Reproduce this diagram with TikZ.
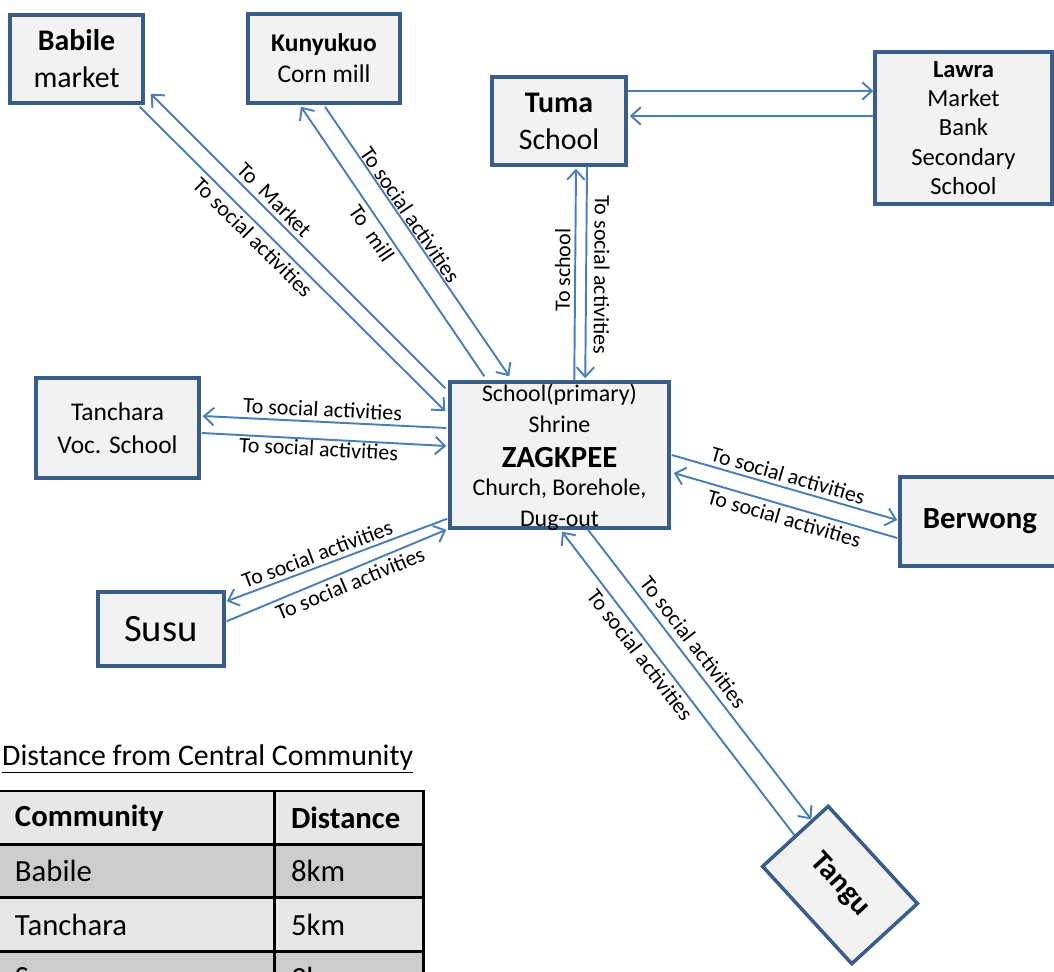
\documentclass[tikz,border=0pt]{standalone}
\usepackage{fontspec}
\setmainfont{Carlito}
\usetikzlibrary{arrows.meta}
\usetikzlibrary{calc}
\definecolor{boxblue}{RGB}{56, 93, 138}
\definecolor{linkblue}{RGB}{74, 126, 187}
\definecolor{boxgray}{RGB}{242, 242, 242}
\definecolor{lightrow}{RGB}{231, 231, 231}
\definecolor{darkrow}{RGB}{204, 204, 204}
\newcommand{\fsz}[2]{\fontsize{#1}{#2}\selectfont}
\tikzset{place/.style = {draw = boxblue, line width = 2pt, fill = boxgray, align = center, inner sep = 0pt}}
\tikzset{link/.style = {draw = linkblue, line width = 1.1pt, -{Straight Barb[length = 5.5pt, width = 10pt]}}}
\tikzset{lbl/.style = {font = \fsz{12.5}{14}, sloped, inner sep = 2.2pt, text = black}}
\tikzset{cell/.style = {draw, line width = 1.7pt, anchor = north west, outer sep = 0pt, minimum height = 1.07cm, align = left, font = \fsz{17.5}{20}}}

\begin{document}
\begin{tikzpicture}[x = 0.02cm, y = -0.02cm]
    \useasboundingbox (0, 0) rectangle (1054, 972);
    \clip (0, 0) rectangle (1054, 972);

    \node [place, minimum width = 2.66cm, minimum height = 1.76cm, font = \fsz{17}{21}] (babile) at (76.5, 59) {\textbf{Babile}\\market};
    \node [place, minimum width = 3.04cm, minimum height = 1.78cm, font = \fsz{14.5}{17.6}] (kun) at (324, 58.5) {\textbf{Kunyukuo}\\Corn mill};
    \node [place, minimum width = 2.68cm, minimum height = 1.76cm, font = \fsz{17}{21}] (tuma) at (559, 121) {\textbf{Tuma}\\School};
    \node [place, minimum width = 3.54cm, minimum height = 3.04cm, font = \fsz{14}{16.7}] (lawra) at (963.5, 128) {\textbf{Lawra}\\Market\\Bank\\Secondary\\School};
    \node [place, minimum width = 3.26cm, minimum height = 2cm, font = \fsz{14.5}{18.7}] (tan) at (117.5, 428) {Tanchara\\Voc. School};
    \node [place, minimum width = 4.38cm, minimum height = 2.92cm] (zag) at (559.5, 455) {};
    \node [align = center, font = \fsz{13.6}{17.6}] (zaglines) at ($(zag.center) + (0, 2)$) {School(primary)\\Shrine\\[2.3pt]{\fsz{17.5}{19}\bfseries ZAGKPEE}\\[-1.7pt]Church, Borehole,\\Dug-out};
    \node [place, minimum width = 3.2cm, minimum height = 1.78cm, font = \fsz{17.5}{20}\bfseries] (ber) at (980, 521.5) {Berwong};
    \node [place, minimum width = 2.52cm, minimum height = 1.48cm, font = \fsz{22}{26}] (susu) at (161, 629) {Susu};
    \node [place, rotate = -47.5, minimum width = 2.64cm, minimum height = 1.78cm, font = \fsz{17}{20}\bfseries] (tangu) at (840, 885) {Tangu};

    \draw [link] ($(zag.north west) + (-3, 8)$) -- ($(babile.south east) + (6, -11)$) node [lbl, pos = 0.61, above] {To~ Market};
    \draw [link] ($(babile.south east) + (-5, 2)$) -- ($(zag.north west) + (-3, 31)$) node [lbl, pos = 0.4, below] {To social activities};
    \draw [link] ($(zag.north west) + (36, -4)$) -- ($(kun.south) + (-23, 2)$) node [lbl, pos = 0.557, below] {To~ mill};
    \draw [link] ($(kun.south) + (1, 2)$) -- ($(zag.north west) + (61, -4)$) node [lbl, pos = 0.42, above, inner sep = 0.5pt] {To social activities};
    \draw [link] ($(zag.north west) + (126, 0)$) -- ($(tuma.south) + (17, 2)$) node [lbl, pos = 0.52, above] {To school};
    \draw [link] ($(tuma.south) + (28, 0)$) -- ($(zag.north west) + (137, -2)$) node [lbl, pos = 0.51, above, allow upside down, inner sep = 4pt] {To social activities};
    \draw [link] ($(tuma.east) + (0, -30)$) -- ($(lawra.west) + (0, -37)$);
    \draw [link] ($(lawra.west) + (0, -12)$) -- ($(tuma.east) + (2, -5)$);
    \draw [link] ($(zag.west) + (-2, -27)$) -- ($(tan.east) + (2, -12)$) node [lbl, pos = 0.51, above] {To social activities};
    \draw [link] ($(tan.east) + (1, 5)$) -- ($(zag.west) + (-2, -9)$) node [lbl, pos = 0.48, below, inner sep = 0.5pt] {To social activities};
    \draw [link] ($(zag.south west) + (-1, -11)$) -- ($(susu.north east) + (1, 11)$) node [lbl, pos = 0.57, above] {To social activities};
    \draw [link] ($(susu.north east) + (1, 31)$) -- ($(zag.south west) + (-2, 0)$) node [lbl, pos = 0.54, below] {To social activities};
    \draw [link] ($(zag.east) + (1, 0)$) -- ($(ber.west) + (-1, -1.5)$) node [lbl, pos = 0.5, above] {To social activities};
    \draw [link] ($(ber.west) + (-1, 16.5)$) -- ($(zag.east) + (3, 18)$) node [lbl, pos = 0.49, below] {To social activities};
    \draw [link] (tangu.west) -- ($(zag.south) + (2.5, 2)$) node [lbl, pos = 0.62, below] {To social activities};
    \draw [link] ($(zag.south) + (28.5, 0)$) -- ($(tangu.west)!0.5!(tangu.north west)$) node [lbl, pos = 0.42, above, inner sep = 3.5pt] {To social activities};

    \node [anchor = base west, font = \fsz{17}{20}] (title) at (-4, 765) {\underline{Distance from Central Community}};
    \node [cell, fill = lightrow, text width = 4.5cm, inner xsep = 0.7cm] (c11) at (-20, 791) {\textbf{Community}};
    \node [cell, fill = lightrow, text width = 2.34cm, inner xsep = 0.32cm] (c12) at (275, 791) {\textbf{Distance}};
    \node [cell, fill = darkrow, text width = 4.5cm, inner xsep = 0.7cm] (c21) at (-20, 844.4) {Babile};
    \node [cell, fill = darkrow, text width = 2.34cm, inner xsep = 0.32cm] (c22) at (275, 844.4) {8km};
    \node [cell, fill = lightrow, text width = 4.5cm, inner xsep = 0.7cm] (c31) at (-20, 897.8) {Tanchara};
    \node [cell, fill = lightrow, text width = 2.34cm, inner xsep = 0.32cm] (c32) at (275, 897.8) {5km};
    \node [cell, fill = darkrow, text width = 4.5cm, inner xsep = 0.7cm] (c41) at (-20, 951.2) {Susu};
    \node [cell, fill = darkrow, text width = 2.34cm, inner xsep = 0.32cm] (c42) at (275, 951.2) {3km};
\end{tikzpicture}
\end{document}
